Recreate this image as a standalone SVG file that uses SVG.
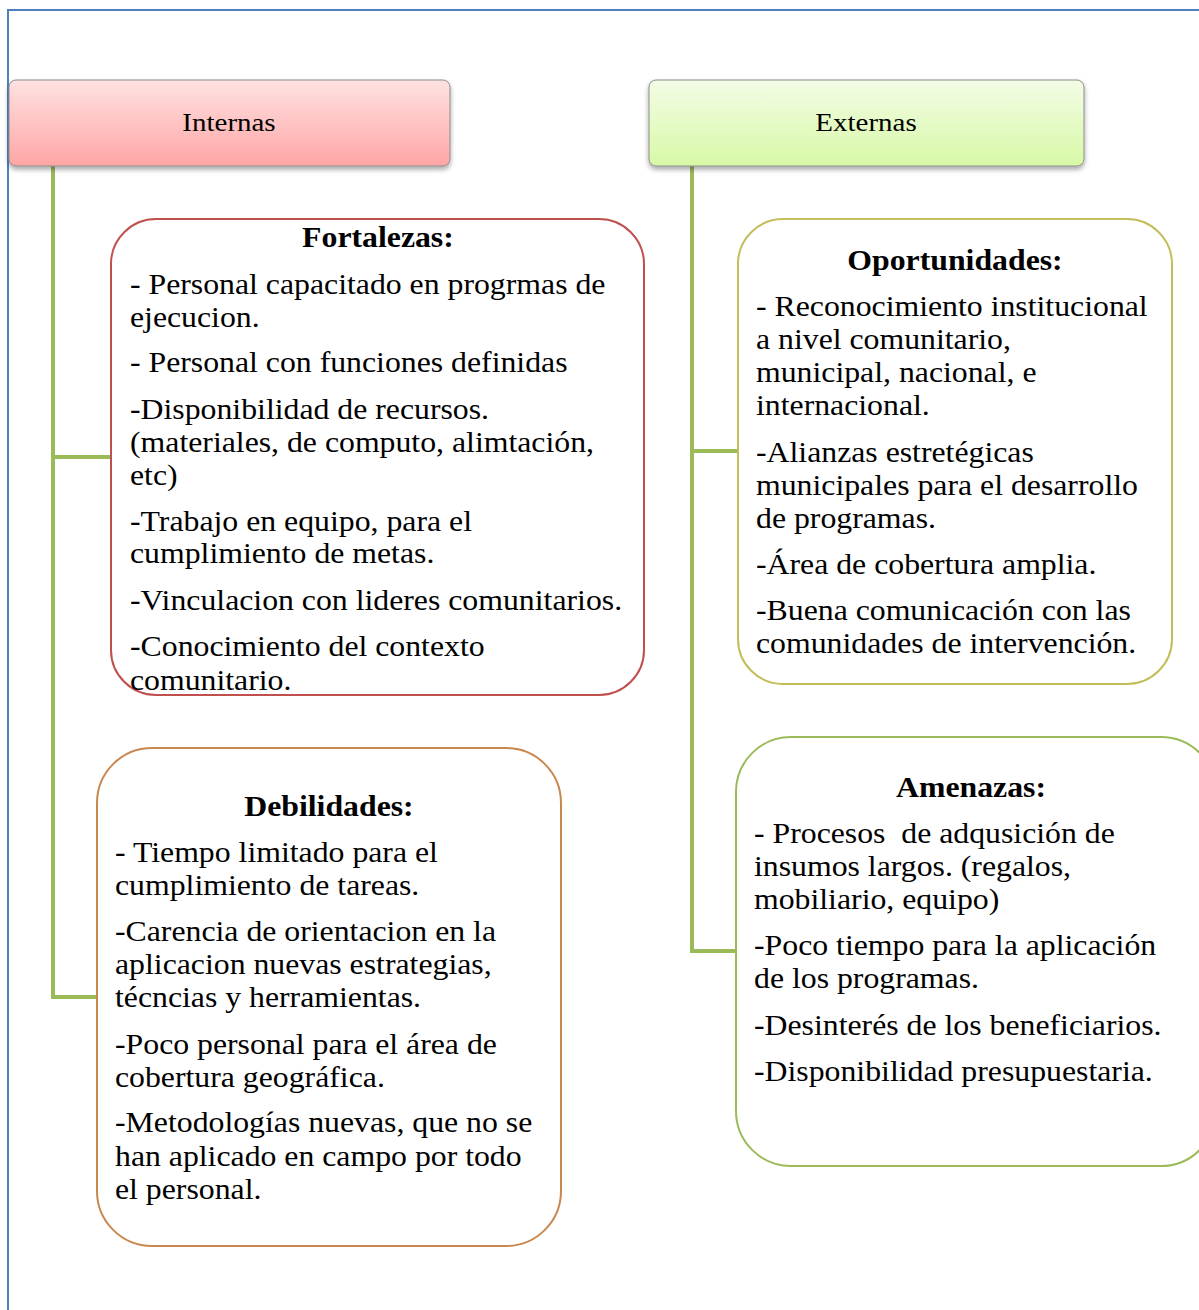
<svg xmlns="http://www.w3.org/2000/svg" width="1199" height="1310" viewBox="0 0 1199 1310">
<style>
text{font-family:"Liberation Serif","Times New Roman",serif;fill:#000}
.b{font-size:28.5px}
.t{font-size:28.5px;font-weight:bold;text-anchor:middle}
.h{font-size:26px;text-anchor:middle}
.conn{stroke:#9bbb59;stroke-width:4;fill:none}
.frame{stroke:#4f81bd;stroke-width:2;fill:none}
</style>
<defs>
<linearGradient id="gPink" x1="0" y1="0" x2="0" y2="1">
<stop offset="0" stop-color="#ffe2e2"/><stop offset="1" stop-color="#ffa5a5"/>
</linearGradient>
<linearGradient id="gGreen" x1="0" y1="0" x2="0" y2="1">
<stop offset="0" stop-color="#f3fce6"/><stop offset="1" stop-color="#d8f9a6"/>
</linearGradient>
<filter id="sh" x="-5%" y="-20%" width="110%" height="150%">
<feDropShadow dx="0" dy="3" stdDeviation="2.5" flood-color="#000" flood-opacity="0.35"/>
</filter>
</defs>
<path class="frame" d="M8,1310 V10 H1199"/>
<g id="connectors">
<path class="conn" d="M53,166 V997 M51,457 H111 M51,997 H97"/>
<path class="conn" d="M692,166 V951 M690,451 H738 M690,951 H736"/>
</g>
<g id="internas">
<rect x="9" y="80" width="441" height="86" rx="7" fill="url(#gPink)" stroke="#8c8c8c" stroke-width="1" filter="url(#sh)"/>
<g transform="translate(229 0) scale(1.115 1)"><text class="h" x="0" y="131">Internas</text></g>
</g>
<g id="externas">
<rect x="649" y="80" width="435" height="86" rx="7" fill="url(#gGreen)" stroke="#8c8c8c" stroke-width="1" filter="url(#sh)"/>
<g transform="translate(866 0) scale(1.115 1)"><text class="h" x="0" y="131">Externas</text></g>
</g>
<g id="fortalezas">
<rect x="111" y="219" width="533" height="476" rx="45" fill="#fff" stroke="#c0504d" stroke-width="2"/>
<g transform="translate(130 0) scale(1.115 1)">
<text class="t" x="222.4" y="247">Fortalezas:</text>
<text class="b" x="0" y="294">- Personal capacitado en progrmas de</text>
<text class="b" x="0" y="327">ejecucion.</text>
<text class="b" x="0" y="372">- Personal con funciones definidas</text>
<text class="b" x="0" y="419">-Disponibilidad de recursos.</text>
<text class="b" x="0" y="452">(materiales, de computo, alimtación,</text>
<text class="b" x="0" y="485">etc)</text>
<text class="b" x="0" y="531">-Trabajo en equipo, para el</text>
<text class="b" x="0" y="563">cumplimiento de metas.</text>
<text class="b" x="0" y="610">-Vinculacion con lideres comunitarios.</text>
<text class="b" x="0" y="656">-Conocimiento del contexto</text>
<text class="b" x="0" y="690">comunitario.</text>
</g>
</g>
<g id="oportunidades">
<rect x="738" y="219" width="434" height="465" rx="45" fill="#fff" stroke="#c3bd5b" stroke-width="2"/>
<g transform="translate(756 0) scale(1.115 1)">
<text class="t" x="178.5" y="270">Oportunidades:</text>
<text class="b" x="0" y="316">- Reconocimiento institucional</text>
<text class="b" x="0" y="349">a nivel comunitario,</text>
<text class="b" x="0" y="382">municipal, nacional, e</text>
<text class="b" x="0" y="415">internacional.</text>
<text class="b" x="0" y="462">-Alianzas estretégicas</text>
<text class="b" x="0" y="495">municipales para el desarrollo</text>
<text class="b" x="0" y="528">de programas.</text>
<text class="b" x="0" y="574">-Área de cobertura amplia.</text>
<text class="b" x="0" y="620">-Buena comunicación con las</text>
<text class="b" x="0" y="653">comunidades de intervención.</text>
</g>
</g>
<g id="debilidades">
<rect x="97" y="748" width="464" height="498" rx="55" fill="#fff" stroke="#c8874e" stroke-width="2"/>
<g transform="translate(115 0) scale(1.115 1)">
<text class="t" x="191.9" y="816">Debilidades:</text>
<text class="b" x="0" y="862">- Tiempo limitado para el</text>
<text class="b" x="0" y="895">cumplimiento de tareas.</text>
<text class="b" x="0" y="941">-Carencia de orientacion en la</text>
<text class="b" x="0" y="974">aplicacion nuevas estrategias,</text>
<text class="b" x="0" y="1007">técncias y herramientas.</text>
<text class="b" x="0" y="1054">-Poco personal para el área de</text>
<text class="b" x="0" y="1087">cobertura geográfica.</text>
<text class="b" x="0" y="1132">-Metodologías nuevas, que no se</text>
<text class="b" x="0" y="1166">han aplicado en campo por todo</text>
<text class="b" x="0" y="1199">el personal.</text>
</g>
</g>
<g id="amenazas">
<rect x="736" y="737" width="480" height="429" rx="55" fill="#fff" stroke="#9bbb59" stroke-width="2"/>
<g transform="translate(754 0) scale(1.115 1)">
<text class="t" x="194.6" y="797">Amenazas:</text>
<text class="b" x="0" y="843" style="white-space:pre">- Procesos  de adqusición de</text>
<text class="b" x="0" y="876">insumos largos. (regalos,</text>
<text class="b" x="0" y="909">mobiliario, equipo)</text>
<text class="b" x="0" y="955">-Poco tiempo para la aplicación</text>
<text class="b" x="0" y="988">de los programas.</text>
<text class="b" x="0" y="1035">-Desinterés de los beneficiarios.</text>
<text class="b" x="0" y="1081">-Disponibilidad presupuestaria.</text>
</g>
</g>
</svg>
